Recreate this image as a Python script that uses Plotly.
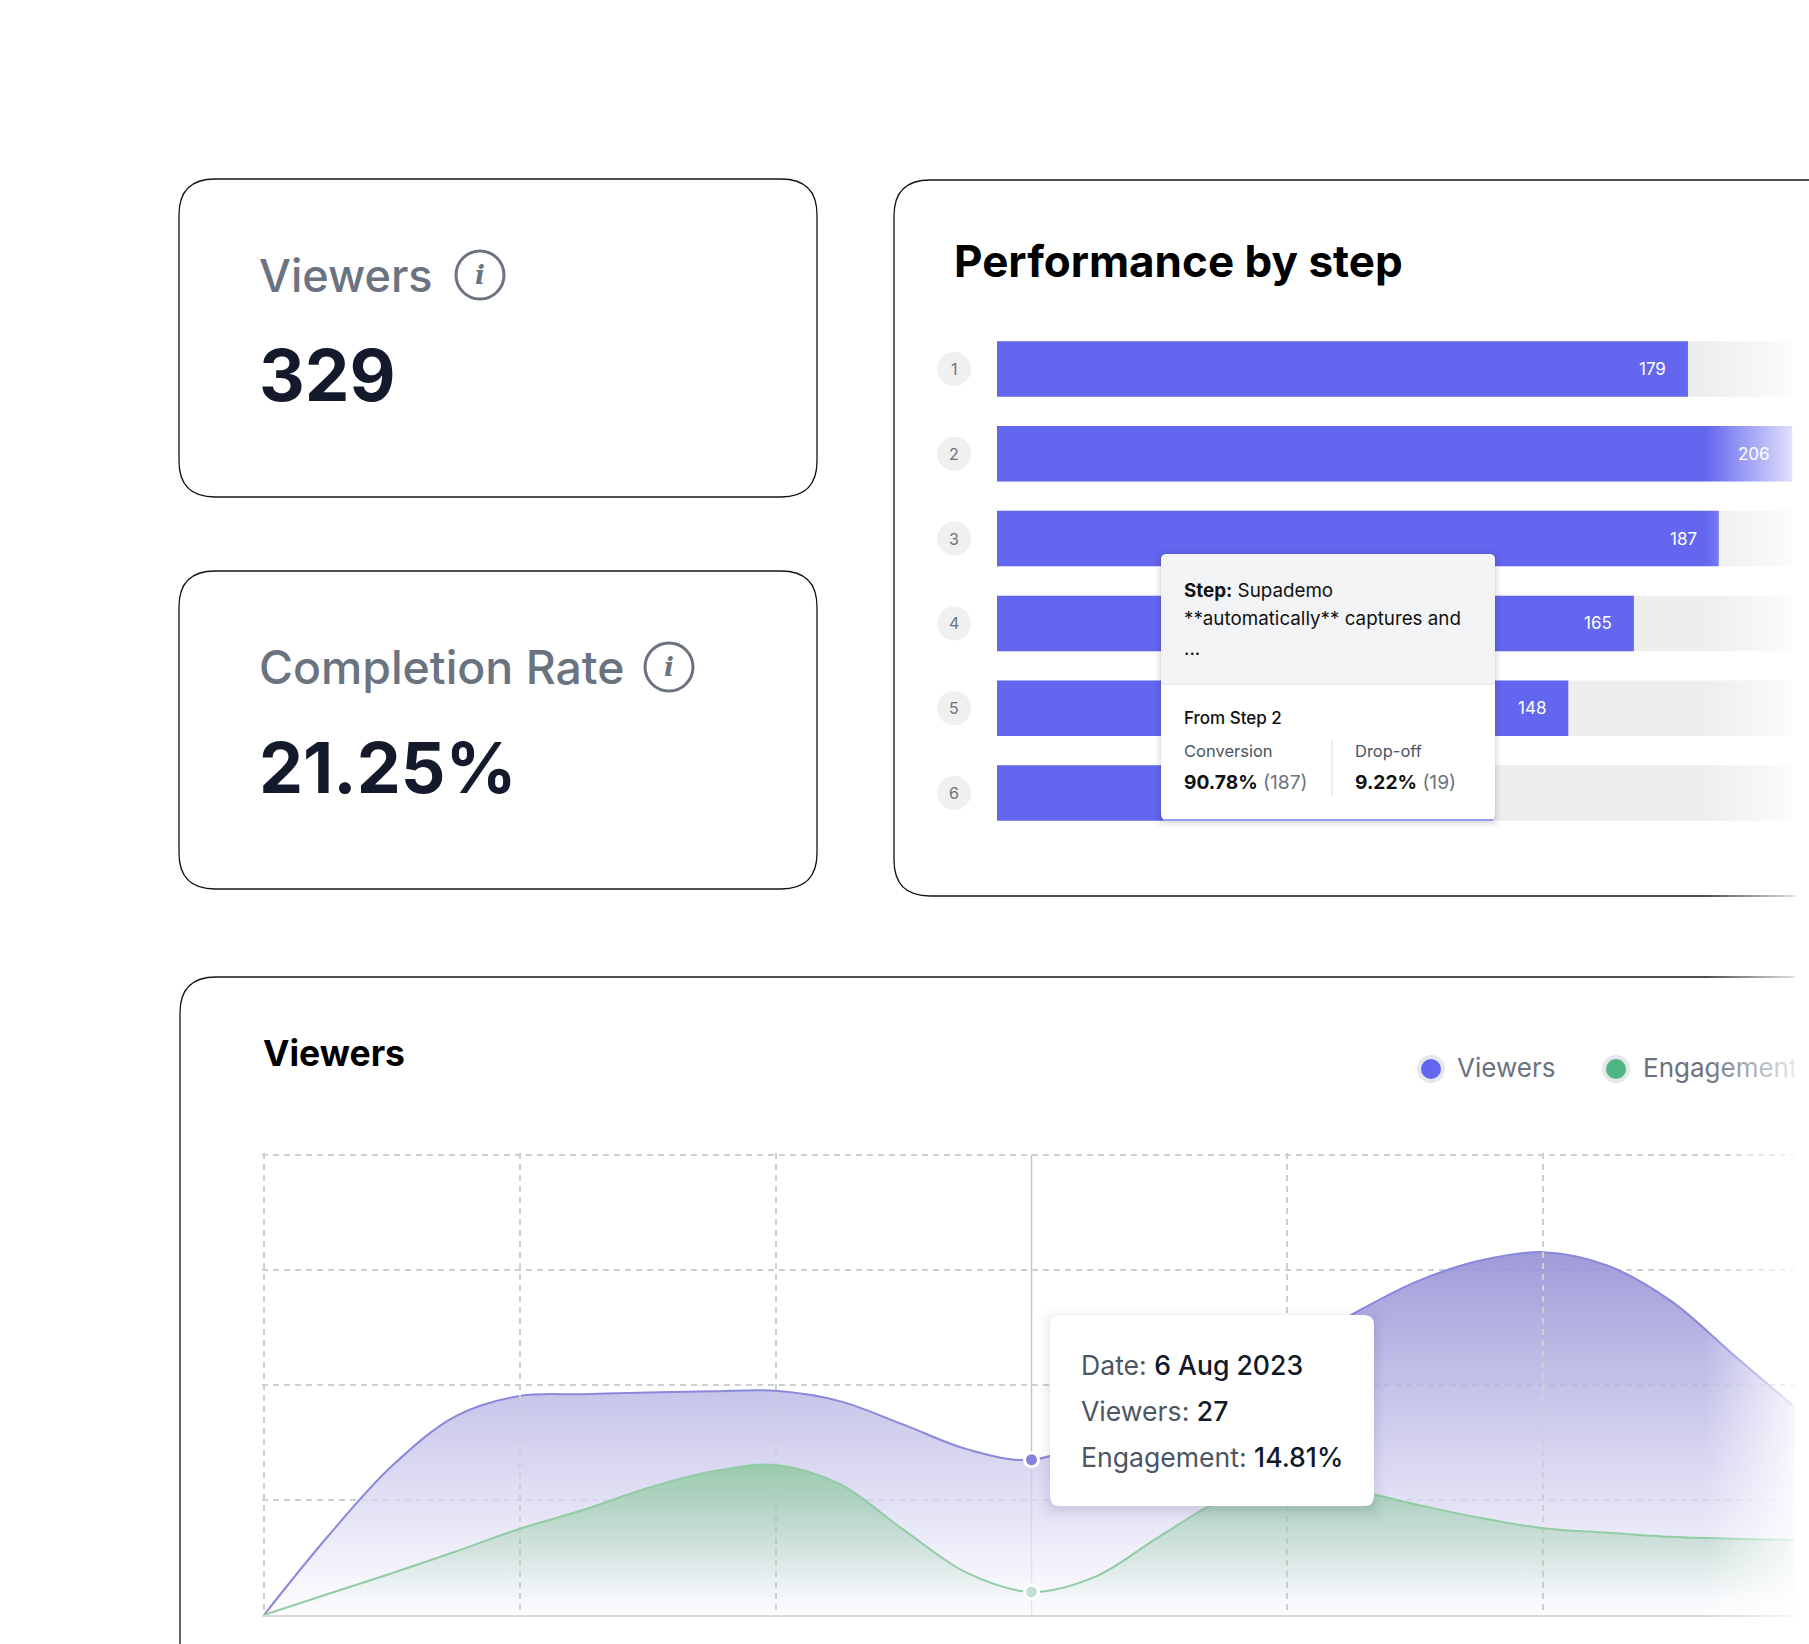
import plotly.graph_objects as go

W, H = 1809, 1644
FONT = "Inter"

# performance by step (step 6 sits behind the tooltip, 21.25% of 329)
steps = ["1", "2", "3", "4", "5", "6"]
step_counts = [179, 206, 187, 165, 148, 70]
track_counts = [206, 206, 206, 206, 206, 206]

# viewers over time, every six hours
tick_dates = ["2023-08-03", "2023-08-04", "2023-08-05", "2023-08-06",
              "2023-08-07", "2023-08-08", "2023-08-09"]
curve_t = [f"{d} {h}:00" for d in tick_dates[:-1] for h in ("00", "06", "12", "18")] + [tick_dates[-1]]
viewers = [0, 13.7, 25.9, 34.6, 38.1, 38.4, 38.7, 38.9, 39, 37.2, 33.1, 28.8, 27, 31, 37, 42,
           46, 52.2, 57.9, 61.6, 63.1, 60.8, 54.6, 45, 35.5]
engagement = [0, 13.5, 26.8, 40.7, 55.3, 67.5, 81.4, 92, 96.2, 84, 54.6, 26.8, 14.81, 24.6, 50.3,
              74, 82, 80, 71, 62.4, 55.6, 52.8, 50.2, 48.9, 48.1]

hover_date = "2023-08-06"
hover_viewers = 27
hover_engagement = 14.81

legend_names = ["Viewers", "Engagement"]
legend_colors = ["#6366f1", "#4fb584"]

PURPLE = "#6366ee"
GRID = "#cecfd2"
CARD = "#141414"


def rounded(x0, y0, x1, y1, r):
    return (f"M{x0+r},{y0} L{x1-r},{y0} Q{x1},{y0} {x1},{y0+r} L{x1},{y1-r} Q{x1},{y1} {x1-r},{y1} "
            f"L{x0+r},{y1} Q{x0},{y1} {x0},{y1-r} L{x0},{y0+r} Q{x0},{y0} {x0+r},{y0} Z")


fig = go.Figure()

# ---- bars
fig.add_trace(go.Bar(x=track_counts, y=steps, orientation="h", marker_color="#eeeeee",
                     marker_line_width=0, xaxis="x", yaxis="y"))
fig.add_trace(go.Bar(x=step_counts, y=steps, orientation="h", marker_color=PURPLE,
                     marker_line_width=0, xaxis="x", yaxis="y"))
fig.add_trace(go.Scatter(x=[-11.1] * len(steps), y=steps, mode="markers", xaxis="x", yaxis="y",
                         marker=dict(size=34, color="#f0f0f0")))

# ---- areas
fig.add_trace(go.Scatter(x=curve_t, y=viewers, mode="lines", xaxis="x2", yaxis="y2",
                         line=dict(shape="spline", smoothing=1.0, color="#8b87da", width=2),
                         fill="tozeroy",
                         fillgradient=dict(type="vertical", colorscale=[
                             [0, "rgba(252,252,255,0.6)"],
                             [0.3, "rgba(218,216,242,0.75)"],
                             [1, "rgba(146,141,212,0.88)"]])))
fig.add_trace(go.Scatter(x=curve_t, y=engagement, mode="lines", xaxis="x2", yaxis="y4",
                         line=dict(shape="spline", smoothing=1.0, color="#92cca5", width=2),
                         fill="tozeroy",
                         fillgradient=dict(type="vertical", colorscale=[
                             [0, "rgba(150,205,170,0)"],
                             [0.12, "rgba(150,205,170,0.04)"],
                             [1, "rgba(140,200,155,0.8)"]])))
fig.add_trace(go.Scatter(x=[hover_date], y=[hover_viewers], mode="markers", xaxis="x2", yaxis="y2",
                         marker=dict(size=14, color="#8783d8", line=dict(color="white", width=3))))
fig.add_trace(go.Scatter(x=[hover_date], y=[hover_engagement], mode="markers", xaxis="x2", yaxis="y4",
                         marker=dict(size=14, color="#c5e0d2", line=dict(color="white", width=3))))

# ---- legend drawn on the page axes so the fade runs over it
fig.add_trace(go.Scatter(x=[1431, 1616], y=[1069, 1069], mode="markers", xaxis="x3", yaxis="y3",
                         marker=dict(size=24, color=legend_colors, line=dict(color="#e5e7eb", width=4))))
fig.add_trace(go.Scatter(x=[1457, 1643], y=[1070, 1070], mode="text", xaxis="x3", yaxis="y3",
                         text=legend_names, textposition="middle right",
                         textfont=dict(family=FONT, size=26, color="#6b7280")))

# white fade on the right edge of the picture
fig.add_trace(go.Scatter(x=[1705, 1809, 1809, 1705, 1705], y=[200, 200, H, H, 200],
                         mode="lines", line_width=0, xaxis="x3", yaxis="y3", fill="toself",
                         fillgradient=dict(type="horizontal", start=1705, stop=1809, colorscale=[
                             [0, "rgba(255,255,255,0)"],
                             [0.84, "rgba(255,255,255,0.8)"],
                             [0.88, "rgba(255,255,255,1)"],
                             [1, "rgba(255,255,255,1)"]])))

shapes = []


def page_shape(path, layer="below", fill=None, line_color=None, width=1):
    shapes.append(dict(type="path", path=path, xref="x3", yref="y3", layer=layer,
                       fillcolor=fill or "rgba(0,0,0,0)",
                       line=dict(color=line_color or "rgba(0,0,0,0)", width=width if line_color else 0)))


# cards
page_shape(rounded(179, 179, 817, 497, 36), line_color=CARD, width=1.3)
page_shape(rounded(179, 571, 817, 889, 36), line_color=CARD, width=1.3)
page_shape("M1900,180 L930,180 Q894,180 894,216 L894,860 Q894,896 930,896 L1900,896",
           line_color=CARD, width=1.3)
page_shape("M1900,977 L216,977 Q180,977 180,1013 L180,1700", line_color=CARD, width=1.3)

# info icons
for cx, cy in [(480, 275), (669, 667)]:
    shapes.append(dict(type="circle", xref="x3", yref="y3", x0=cx - 24, x1=cx + 24, y0=cy - 24, y1=cy + 24,
                       layer="below", line=dict(color="#6b7280", width=3)))

# crosshair at the hovered date
shapes.append(dict(type="line", xref="x2", yref="y2", x0=hover_date, x1=hover_date, y0=0, y1=80,
                   layer="below", line=dict(color="#c6c6ca", width=1.5)))

# tooltip on the bars
for grow, alpha in [(7, 0.012), (5, 0.02), (3, 0.03), (1, 0.05)]:
    page_shape(rounded(1161 - grow, 554 - grow + 2, 1495 + grow, 820 + grow + 2, 8), layer="above",
               fill=f"rgba(0,0,0,{alpha})")
page_shape(rounded(1161, 554, 1495, 820, 6), layer="above", fill="white")
page_shape("M1161,683 L1161,560 Q1161,554 1167,554 L1489,554 Q1495,554 1495,560 L1495,683 Z",
           layer="above", fill="#f3f4f6")
page_shape("M1161,684 L1495,684", layer="above", line_color="#e5e7eb", width=1.5)
page_shape("M1163,820 L1493,820", layer="above", line_color="#9d9bee", width=2)
page_shape("M1332,740 L1332,796", layer="above", line_color="#e5e7eb", width=1.5)

# tooltip on the areas
for grow, alpha in [(12, 0.008), (9, 0.012), (6, 0.018), (3, 0.025), (1, 0.03)]:
    page_shape(rounded(1050 - grow, 1315 - grow + 4, 1374 + grow, 1506 + grow + 4, 12), layer="above",
               fill=f"rgba(40,40,70,{alpha})")
page_shape(rounded(1050, 1315, 1374, 1506, 10), layer="above", fill="white")

fig.update_layout(shapes=shapes)


def label(x, y, text, size, color="#111827", weight=400, anchor="left"):
    fig.add_annotation(x=x, y=y, xref="x3", yref="y3", text=text, showarrow=False, xanchor=anchor,
                       yanchor="middle", align="left", borderpad=0,
                       font=dict(family=FONT, size=size, color=color, weight=weight))


# bar values and step numbers, annotations on a category axis take the row index
# the count of step 6 is covered by the tooltip
row_order = steps[::-1]
for s, v in zip(steps[:-1], step_counts[:-1]):
    fig.add_annotation(x=v, y=row_order.index(s), xref="x", yref="y", text=str(v), showarrow=False,
                       xanchor="right", xshift=-20, font=dict(family=FONT, size=17, color="white"))
for s in steps:
    fig.add_annotation(x=-11.1, y=row_order.index(s), xref="x", yref="y", text=s, showarrow=False,
                       font=dict(family=FONT, size=16, color="#6b7280"))

label(258, 275, "Viewers", 45, "#6b7280", 500)
label(258, 375, "329", 71, "#141a2b", 700)
label(258, 667, "Completion Rate", 46.4, "#6b7280", 500)
label(258, 767, "21.25%", 70, "#141a2b", 700)
for cx, cy in [(480, 275), (669, 667)]:
    fig.add_annotation(x=cx, y=cy, xref="x3", yref="y3", text="<i>i</i>", showarrow=False,
                       font=dict(family="DejaVu Serif", size=26, color="#6b7280", weight=700))

label(953, 261, "Performance by step", 44, "#000000", 700)
label(262, 1053, "Viewers", 35.5, "#000000", 700)

label(1183, 590, "<b>Step:</b> Supademo", 18.8, "#111111")
label(1183, 618, "**automatically** captures and", 18.8, "#111111")
label(1183, 648, "...", 18.8, "#111111")
label(1183, 718, "From Step 2", 17, "#111111", 500)
label(1183, 751, "Conversion", 16.5, "#4b5563")
label(1183, 782, "<b>90.78%</b> <span style='color:#6b7280'>(187)</span>", 19.2, "#111111")
label(1354, 751, "Drop-off", 16.5, "#4b5563")
label(1354, 782, "<b>9.22%</b> <span style='color:#6b7280'>(19)</span>", 19.2, "#111111")

val = "<span style='color:#111827;font-weight:500'>%s</span>"
label(1080, 1365, "Date: " + val % "6 Aug 2023", 26.6, "#4b5563")
label(1080, 1411, "Viewers: " + val % hover_viewers, 26.6, "#4b5563")
label(1080, 1457, "Engagement: " + val % f"{hover_engagement}%", 26.6, "#4b5563")

row_h = 84.8
fig.update_layout(
    width=W, height=H, margin=dict(l=0, r=0, t=0, b=0), autosize=False,
    paper_bgcolor="white", plot_bgcolor="rgba(0,0,0,0)",
    showlegend=False, barmode="overlay", bargap=0.345, hovermode=False,
    # bars
    xaxis=dict(domain=[930 / W, 1], range=[(930 - 997) / 3.86, (W - 997) / 3.86], visible=False),
    yaxis=dict(domain=[1 - (369 + 5.5 * row_h) / H, 1 - (369 - 0.5 * row_h) / H], type="category",
               categoryorder="array", categoryarray=row_order, range=[-0.5, 5.5], visible=False,
               anchor="x"),
    # areas, with a couple of spare pixels so the first and last grid lines are kept
    xaxis2=dict(domain=[262 / W, 1], type="date", range=["2023-08-02 23:49", "2023-08-09 00:56"],
                tickvals=[d for d in tick_dates if d != hover_date], showticklabels=False, ticks="",
                showgrid=True, griddash="6px,5px", gridcolor=GRID, gridwidth=1.5, zeroline=False,
                showline=True, linecolor="#d8d8dc", linewidth=2, anchor="y2"),
    yaxis2=dict(domain=[1 - 1615 / H, 1 - 1153 / H], range=[0, 80.35], tickvals=[20, 40, 60, 80],
                showticklabels=False, ticks="", showgrid=True, griddash="6px,5px", gridcolor=GRID,
                gridwidth=1.5, zeroline=False, anchor="x2"),
    yaxis4=dict(domain=[1 - 1615 / H, 1 - 1153 / H], range=[0, 296.3], visible=False, anchor="x2"),
    # page pixels, for cards and text
    xaxis3=dict(domain=[0, 1], range=[0, W], visible=False, anchor="y3"),
    yaxis3=dict(domain=[0, 1], range=[H, 0], visible=False, anchor="x3"),
)

fig.write_html("out.html", config={"displayModeBar": False},
               post_script="document.body.style.margin='0';")
